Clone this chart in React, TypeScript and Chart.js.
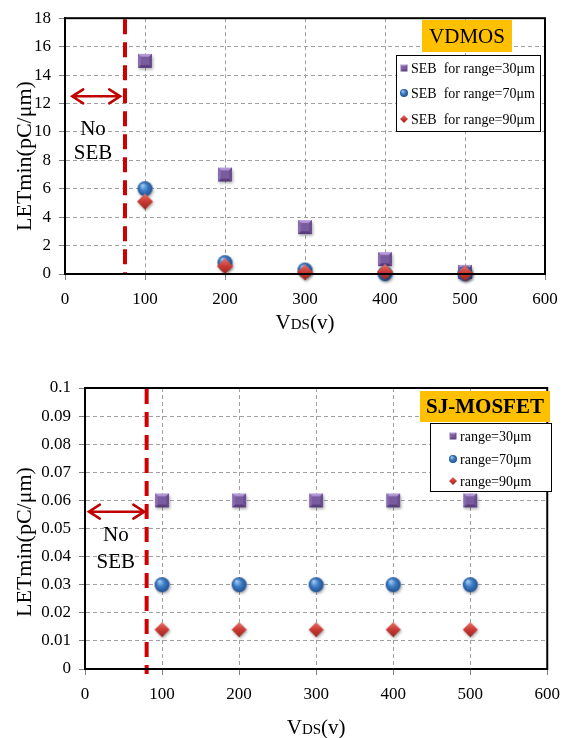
import React, { useEffect, useRef } from "react";
import { Chart, registerables } from "chart.js";
Chart.register(...registerables);

// ---------- data ----------
const VDS = [100, 200, 300, 400, 500];
const X_TICKS = [0, 100, 200, 300, 400, 500, 600];

const VDMOS_30 = [15, 7, 3.3, 1.05, 0.15];
const VDMOS_70 = [6, 0.8, 0.28, 0.02, 0.02];
const VDMOS_90 = [5.1, 0.55, 0.12, 0.15, 0.05];
const VDMOS_LABELS = ["SEB  for range=30μm", "SEB  for range=70μm", "SEB  for range=90μm"];
const VDMOS_Y_TICKS = [0, 2, 4, 6, 8, 10, 12, 14, 16, 18];
const VDMOS_NO_SEB_X = 75;

const SJ_30 = [0.06, 0.06, 0.06, 0.06, 0.06];
const SJ_70 = [0.03, 0.03, 0.03, 0.03, 0.03];
const SJ_90 = [0.014, 0.014, 0.014, 0.014, 0.014];
const SJ_LABELS = ["range=30μm", "range=70μm", "range=90μm"];
const SJ_Y_TICKS = [0, 0.01, 0.02, 0.03, 0.04, 0.05, 0.06, 0.07, 0.08, 0.09, 0.1];
const SJ_NO_SEB_X = 80;

const FONT = "'Liberation Serif', 'Times New Roman', serif";

// ---------- marker images ----------
type Kind = "square" | "circle" | "diamond";

function makeMarker(kind: Kind, size: number, shadow = true): HTMLCanvasElement {
  const pad = shadow ? 4 : 1;
  const c = document.createElement("canvas");
  const S = size + pad * 2;
  c.width = S;
  c.height = S;
  const ctx = c.getContext("2d")!;
  const cx = S / 2;
  const cy = S / 2;
  const h = size / 2;
  if (shadow) {
    ctx.shadowColor = "rgba(0,0,0,0.35)";
    ctx.shadowBlur = 3;
    ctx.shadowOffsetX = 1;
    ctx.shadowOffsetY = 1.5;
  }
  if (kind === "square") {
    ctx.fillStyle = "#7a5b9f";
    ctx.fillRect(cx - h, cy - h, size, size);
    ctx.shadowColor = "transparent";
    const b = Math.max(1.5, size * 0.2);
    ctx.fillStyle = "#b49ad6";
    ctx.beginPath();
    ctx.moveTo(cx - h, cy - h);
    ctx.lineTo(cx + h, cy - h);
    ctx.lineTo(cx + h - b, cy - h + b);
    ctx.lineTo(cx - h + b, cy - h + b);
    ctx.closePath();
    ctx.fill();
    ctx.fillStyle = "#563c78";
    ctx.beginPath();
    ctx.moveTo(cx - h, cy + h);
    ctx.lineTo(cx + h, cy + h);
    ctx.lineTo(cx + h - b, cy + h - b);
    ctx.lineTo(cx - h + b, cy + h - b);
    ctx.closePath();
    ctx.fill();
    ctx.fillStyle = "#8a6cb0";
    ctx.beginPath();
    ctx.moveTo(cx - h, cy - h);
    ctx.lineTo(cx - h + b, cy - h + b);
    ctx.lineTo(cx - h + b, cy + h - b);
    ctx.lineTo(cx - h, cy + h);
    ctx.closePath();
    ctx.fill();
    ctx.fillStyle = "#6a4e8f";
    ctx.beginPath();
    ctx.moveTo(cx + h, cy - h);
    ctx.lineTo(cx + h - b, cy - h + b);
    ctx.lineTo(cx + h - b, cy + h - b);
    ctx.lineTo(cx + h, cy + h);
    ctx.closePath();
    ctx.fill();
  } else if (kind === "circle") {
    const g = ctx.createRadialGradient(cx - h * 0.35, cy - h * 0.45, h * 0.1, cx, cy, h);
    g.addColorStop(0, "#9cc6f0");
    g.addColorStop(0.45, "#3f7fc8");
    g.addColorStop(1, "#1f4f90");
    ctx.fillStyle = g;
    ctx.beginPath();
    ctx.arc(cx, cy, h, 0, Math.PI * 2);
    ctx.fill();
  } else {
    const g = ctx.createLinearGradient(cx, cy - h, cx, cy + h);
    g.addColorStop(0, "#e8736c");
    g.addColorStop(0.5, "#c93a33");
    g.addColorStop(1, "#9c2620");
    ctx.fillStyle = g;
    ctx.beginPath();
    ctx.moveTo(cx, cy - h);
    ctx.lineTo(cx + h, cy);
    ctx.lineTo(cx, cy + h);
    ctx.lineTo(cx - h, cy);
    ctx.closePath();
    ctx.fill();
  }
  return c;
}

// ---------- overlay plugin ----------
type Overlay = {
  noSebX: number;
  lineExtendBottom: number;
  arrow: [number, number, number];
  noSeb: [number, number, number];
  badge: { text: string; bold: boolean; x: number; y: number; w: number; h: number; size: number };
  legend: { x: number; y: number; w: number; h: number; rows: number[]; markerX: number; textX: number };
  yTitle: { x: number; y: number };
  xTitleY: number;
};

function overlayPlugin(o: Overlay, legendMarkers: HTMLCanvasElement[], labels: string[]) {
  return {
    id: "overlay",
    beforeDatasetsDraw(chart: any) {
      const ctx: CanvasRenderingContext2D = chart.ctx;
      const xs = chart.scales.x;
      const ys = chart.scales.y;
      const area = chart.chartArea;
      const lx = xs.getPixelForValue(o.noSebX);
      ctx.save();
      ctx.strokeStyle = "#d00000";
      ctx.lineWidth = 4;
      ctx.setLineDash([15, 8]);
      ctx.beginPath();
      ctx.moveTo(lx, area.top + 1);
      ctx.lineTo(lx, area.bottom + o.lineExtendBottom);
      ctx.stroke();
      ctx.restore();
      const ax1 = xs.getPixelForValue(o.arrow[0]);
      const ax2 = xs.getPixelForValue(o.arrow[1]);
      const ay = ys.getPixelForValue(o.arrow[2]);
      ctx.save();
      ctx.strokeStyle = "#c00000";
      ctx.lineWidth = 2.5;
      ctx.lineCap = "round";
      ctx.beginPath();
      ctx.moveTo(ax1, ay);
      ctx.lineTo(ax2, ay);
      ctx.moveTo(ax1 + 11, ay - 7);
      ctx.lineTo(ax1, ay);
      ctx.lineTo(ax1 + 11, ay + 7);
      ctx.moveTo(ax2 - 11, ay - 7);
      ctx.lineTo(ax2, ay);
      ctx.lineTo(ax2 - 11, ay + 7);
      ctx.stroke();
      ctx.restore();
      const tx = xs.getPixelForValue(o.noSeb[0]);
      ctx.save();
      ctx.fillStyle = "#000";
      ctx.font = `21px ${FONT}`;
      ctx.textAlign = "center";
      ctx.textBaseline = "middle";
      ctx.fillText("No", tx, ys.getPixelForValue(o.noSeb[1]));
      ctx.fillText("SEB", tx, ys.getPixelForValue(o.noSeb[2]));
      ctx.restore();
    },
    afterDatasetsDraw(chart: any) {
      const ctx: CanvasRenderingContext2D = chart.ctx;
      const area = chart.chartArea;
      ctx.save();
      ctx.strokeStyle = "#000";
      ctx.lineWidth = 2;
      ctx.strokeRect(area.left, area.top, area.right - area.left, area.bottom - area.top);
      const b = o.badge;
      ctx.fillStyle = "#ffc000";
      ctx.fillRect(b.x, b.y, b.w, b.h);
      ctx.fillStyle = "#000";
      ctx.font = `${b.bold ? "bold " : ""}${b.size}px ${FONT}`;
      ctx.textAlign = "center";
      ctx.textBaseline = "middle";
      ctx.fillText(b.text, b.x + b.w / 2, b.y + b.h / 2 + 1);
      const L = o.legend;
      ctx.fillStyle = "#fff";
      ctx.fillRect(L.x, L.y, L.w, L.h);
      ctx.strokeStyle = "#000";
      ctx.lineWidth = 1;
      ctx.strokeRect(L.x + 0.5, L.y + 0.5, L.w, L.h);
      ctx.font = `14px ${FONT}`;
      ctx.textAlign = "left";
      ctx.textBaseline = "middle";
      ctx.fillStyle = "#000";
      L.rows.forEach((ry, i) => {
        const m = legendMarkers[i];
        ctx.drawImage(m, L.markerX - m.width / 2, ry - m.height / 2);
        ctx.fillText(labels[i], L.textX, ry + 1);
      });
      ctx.restore();
    },
    afterDraw(chart: any) {
      const ctx: CanvasRenderingContext2D = chart.ctx;
      const area = chart.chartArea;
      ctx.save();
      ctx.fillStyle = "#000";
      ctx.translate(o.yTitle.x, o.yTitle.y);
      ctx.rotate(-Math.PI / 2);
      ctx.font = `22px ${FONT}`;
      ctx.textAlign = "center";
      ctx.textBaseline = "middle";
      ctx.fillText("LETmin(pC/μm)", 0, 0);
      ctx.setTransform(1, 0, 0, 1, 0, 0);
      const big = `21px ${FONT}`;
      const small = `15px ${FONT}`;
      ctx.font = big;
      const wV = ctx.measureText("V").width;
      const wP = ctx.measureText("(v)").width;
      ctx.font = small;
      const wD = ctx.measureText("DS").width;
      const total = wV + wD + wP;
      let x = (area.left + area.right) / 2 - total / 2;
      const base = o.xTitleY + 7;
      ctx.textAlign = "left";
      ctx.textBaseline = "alphabetic";
      ctx.font = big;
      ctx.fillText("V", x, base);
      x += wV;
      ctx.font = small;
      ctx.fillText("DS", x, base);
      x += wD;
      ctx.font = big;
      ctx.fillText("(v)", x, base);
      ctx.restore();
    },
  };
}

function buildChart(
  canvas: HTMLCanvasElement,
  series: number[][],
  labels: string[],
  yTicks: number[],
  geom: { left: number; right: number; top: number; bottom: number; width: number; height: number },
  o: Overlay,
  markerSize: number[]
) {
  const kinds: Kind[] = ["square", "circle", "diamond"];
  const markers = kinds.map((k, i) => makeMarker(k, markerSize[i]));
  const legendMarkers = [makeMarker("square", 7, false), makeMarker("circle", 8, false), makeMarker("diamond", 8, false)];
  const drawOrder = [2, 1, 0];
  const datasets = series.map((vals, i) => ({
    type: "scatter" as const,
    label: labels[i],
    order: drawOrder[i],
    data: VDS.map((x, j) => ({ x, y: vals[j] })),
    pointStyle: markers[i],
    pointRadius: markerSize[i] / 2,
    showLine: false,
    clip: false as any,
  }));
  const yMax = yTicks[yTicks.length - 1];
  const tickFont = { family: FONT, size: 17 };
  return new Chart(canvas, {
    type: "scatter",
    data: { datasets },
    options: {
      responsive: false,
      animation: false,
      layout: { padding: { left: 0, right: geom.width - geom.right, top: geom.top, bottom: 0 } },
      plugins: { legend: { display: false }, tooltip: { enabled: false } },
      scales: {
        x: {
          type: "linear",
          min: X_TICKS[0],
          max: X_TICKS[X_TICKS.length - 1],
          afterBuildTicks: (s: any) => {
            s.ticks = X_TICKS.map((v) => ({ value: v }));
          },
          afterFit: (s: any) => {
            s.height = geom.height - geom.bottom;
          },
          ticks: { font: tickFont, color: "#000", padding: 9, maxRotation: 0, autoSkip: false },
          grid: { color: "#a0a0a0", lineWidth: 1, tickLength: 6, tickColor: "#808080", tickBorderDash: [] },
          border: { display: true, color: "#000", width: 2, dash: [4, 3] },
        },
        y: {
          type: "linear",
          min: 0,
          max: yMax,
          afterBuildTicks: (s: any) => {
            s.ticks = yTicks.map((v) => ({ value: v }));
          },
          afterFit: (s: any) => {
            s.width = geom.left;
          },
          ticks: {
            font: tickFont,
            color: "#000",
            padding: 8,
            callback: (v: any) => String(Number(Number(v).toFixed(3))),
          },
          grid: { color: "#a0a0a0", lineWidth: 1, tickLength: 6, tickColor: "#808080", tickBorderDash: [] },
          border: { display: true, color: "#000", width: 2, dash: [4, 3] },
        },
      },
    } as any,
    plugins: [overlayPlugin(o, legendMarkers, labels)],
  });
}

export default function App() {
  const topRef = useRef<HTMLCanvasElement>(null);
  const botRef = useRef<HTMLCanvasElement>(null);

  useEffect(() => {
    const W = 569;
    const topGeom = { left: 65, right: 545, top: 15, bottom: 274, width: W, height: 340 };
    const c1 = buildChart(
      topRef.current!,
      [VDMOS_30, VDMOS_70, VDMOS_90],
      VDMOS_LABELS,
      VDMOS_Y_TICKS,
      topGeom,
      {
        noSebX: VDMOS_NO_SEB_X,
        lineExtendBottom: 0,
        arrow: [9, 69, 12.5],
        noSeb: [35, 10.2, 8.5],
        badge: { text: "VDMOS", bold: false, x: 422, y: 20, w: 90, h: 32, size: 21 },
        legend: { x: 396, y: 55, w: 144, h: 76, rows: [68, 93, 119], markerX: 404, textX: 411 },
        yTitle: { x: 25, y: 156 },
        xTitleY: 322,
      },
      [14, 15, 16]
    );
    const off = 360;
    const botGeom = { left: 85, right: 553, top: 388 - off, bottom: 669 - off, width: W, height: 378 };
    const c2 = buildChart(
      botRef.current!,
      [SJ_30, SJ_70, SJ_90],
      SJ_LABELS,
      SJ_Y_TICKS,
      botGeom,
      {
        noSebX: SJ_NO_SEB_X,
        lineExtendBottom: 5,
        arrow: [5, 77, 0.056],
        noSeb: [40, 0.0475, 0.038],
        badge: { text: "SJ-MOSFET", bold: true, x: 420, y: 391 - off, w: 130, h: 31, size: 21 },
        legend: { x: 430, y: 423 - off, w: 121, h: 68, rows: [436 - off, 459 - off, 481 - off], markerX: 453, textX: 460 },
        yTitle: { x: 25, y: 542 - off },
        xTitleY: 727 - off,
      },
      [14, 15, 15]
    );
    return () => {
      c1.destroy();
      c2.destroy();
    };
  }, []);

  return (
    <div style={{ position: "absolute", left: 0, top: 0, width: 569, height: 738, background: "#fff" }}>
      <canvas ref={topRef} width={569} height={340} style={{ position: "absolute", left: 0, top: 0 }} />
      <canvas ref={botRef} width={569} height={378} style={{ position: "absolute", left: 0, top: 360 }} />
    </div>
  );
}
